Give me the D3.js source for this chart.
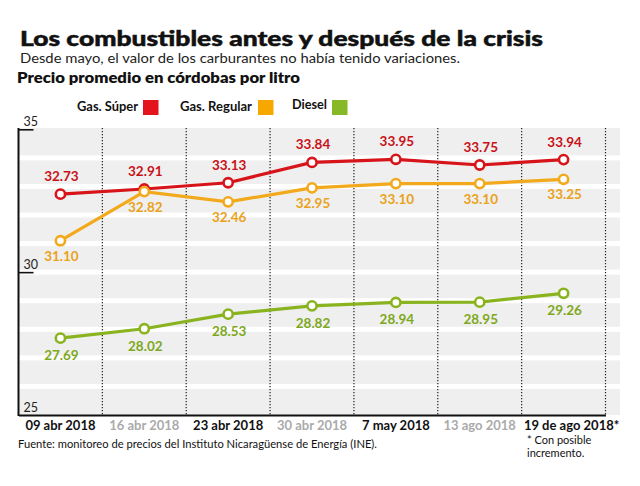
<!DOCTYPE html>
<html><head><meta charset="utf-8">
<script src="https://cdn.jsdelivr.net/npm/d3@7"></script>
<style>
body{margin:0;background:#fff;}
svg{display:block;font-family:Lato,"Open Sans",sans-serif;}
</style></head>
<body>
<svg id="c" width="640" height="486"></svg>
<script>
const categories = ["09 abr 2018","16 abr 2018","23 abr 2018","30 abr 2018","7 may 2018","13 ago 2018","19 de ago 2018*"];
const highlighted = [true,false,true,false,true,false,true];
const superValues = [32.73,32.91,33.13,33.84,33.95,33.75,33.94];
const regularValues = [31.10,32.82,32.46,32.95,33.10,33.10,33.25];
const dieselValues = [27.69,28.02,28.53,28.82,28.94,28.95,29.26];
const seriesNames = ["Gas. Súper","Gas. Regular","Diesel"];
const yTicks = [25,30,35];
const stripeValues = [25,26,27,28,29,30,31,32,33,34];

const series = [
  {name:seriesNames[0], values:superValues, line:"#d8141b", label:"#c81219", box:"#e3141c", pos:"above"},
  {name:seriesNames[1], values:regularValues, line:"#f2a91c", label:"#e9a21a", box:"#f7a800", pos:"below"},
  {name:seriesNames[2], values:dieselValues, line:"#8ab41f", label:"#7ea81c", box:"#86b925", pos:"below2"}
];

const svg = d3.select("#c");
const x = d3.scaleBand().domain(categories).range([18.5,605.5]).padding(0);
const y = d3.scaleLinear().domain([25,35]).range([415,129.3]);

// Titles
svg.append("text").attr("x",20).attr("y",46).attr("font-size",21).attr("font-weight",900)
  .attr("fill","#111").attr("stroke","#111").attr("stroke-width",0.5)
  .attr("textLength",523).attr("lengthAdjust","spacingAndGlyphs")
  .text("Los combustibles antes y después de la crisis");
svg.append("text").attr("x",20).attr("y",63).attr("font-size",13.5).attr("fill","#222")
  .attr("textLength",440).attr("lengthAdjust","spacingAndGlyphs")
  .text("Desde mayo, el valor de los carburantes no había tenido variaciones.");
svg.append("text").attr("x",17).attr("y",83).attr("font-size",14.5).attr("font-weight",800).attr("fill","#111")
  .attr("textLength",283).attr("lengthAdjust","spacingAndGlyphs")
  .text("Precio promedio en córdobas por litro");

// Legend
const legendX = [{t:77,b:143,w:61},{t:180,b:258,w:72},{t:292,b:332,w:35}];
series.forEach((s,i)=>{
  svg.append("text").attr("x",legendX[i].t).attr("y",i===2?109:111).attr("font-size",12.5).attr("font-weight",700)
    .attr("fill","#111").attr("textLength",legendX[i].w).attr("lengthAdjust","spacingAndGlyphs").text(s.name);
  svg.append("rect").attr("x",legendX[i].b).attr("y",100).attr("width",15.5).attr("height",15).attr("fill",s.box);
});

// Stripes
const g = svg.append("g");
g.selectAll("rect.stripe").data(stripeValues).enter().append("rect")
  .attr("x",19).attr("width",601)
  .attr("y",d=>y(d+1)+(d+1<35?2.5:-1.3))
  .attr("height",d=>(y(d)-(d>25?2.5:0))-(y(d+1)+(d+1<35?2.5:-1.3)))
  .attr("fill","#efefef");

// Dotted vertical separators
g.selectAll("line.sep").data(categories).enter().append("line")
  .attr("x1",d=>x(d)+x.bandwidth()).attr("x2",d=>x(d)+x.bandwidth())
  .attr("y1",128).attr("y2",415)
  .attr("stroke","#222").attr("stroke-width",1.2).attr("stroke-dasharray","1.2,1.8");

// X axis
const xa = svg.append("g").attr("transform","translate(0,415)")
  .call(d3.axisBottom(x).tickSize(0).tickPadding(9));
xa.select(".domain").attr("stroke","#111").attr("stroke-width",2);
xa.selectAll(".tick text").attr("font-family","Lato, sans-serif").attr("font-size",13)
  .attr("font-weight",700).attr("dy","0.45em")
  .attr("fill",(d,i)=>highlighted[i]?"#111":"#aaaaaa")
  .attr("dx",(d,i)=>i===categories.length-1?8:0);

// Y axis
const ya = svg.append("g").attr("transform","translate(18.5,0)")
  .call(d3.axisRight(y).tickValues(yTicks).tickSize(15).tickPadding(0).tickFormat(d3.format("d")));
ya.select(".domain").attr("d",`M0,128V416`).attr("stroke","#111").attr("stroke-width",2);
ya.selectAll(".tick line").attr("stroke","#111").attr("stroke-width",1.6)
  .attr("display",d=>d===25?"none":null);
ya.selectAll(".tick text").attr("x",5).attr("dy",-4).attr("font-family","Lato, sans-serif")
  .attr("font-size",12.5).attr("fill","#222");

// Lines, markers, labels
const line = d3.line().x((d,i)=>x(categories[i])+x.bandwidth()/2).y(d=>y(d));
series.forEach(s=>{
  svg.append("path").datum(s.values).attr("d",line).attr("fill","none")
    .attr("stroke",s.line).attr("stroke-width",3.2);
});
series.forEach(s=>{
  svg.selectAll(null).data(s.values).enter().append("circle")
    .attr("cx",(d,i)=>x(categories[i])+x.bandwidth()/2).attr("cy",d=>y(d)).attr("r",4.6)
    .attr("fill","#fff").attr("stroke",s.line).attr("stroke-width",2.6);
  svg.selectAll(null).data(s.values).enter().append("text")
    .attr("x",(d,i)=>x(categories[i])+x.bandwidth()/2+1)
    .attr("y",d=>y(d)+(s.pos==="above"?-13:(s.pos==="below"?20:22)))
    .attr("text-anchor","middle").attr("font-size",13.5).attr("font-weight",700)
    .attr("fill",s.label).text(d=>d3.format(".2f")(d));
});

// Footnotes
svg.append("text").attr("x",18).attr("y",448).attr("font-size",11.5).attr("fill","#111")
  .attr("textLength",359).attr("lengthAdjust","spacingAndGlyphs")
  .text("Fuente: monitoreo de precios del Instituto Nicaragüense de Energía (INE).");
svg.append("text").attr("x",527).attr("y",444).attr("font-size",11).attr("fill","#111").text("* Con posible");
svg.append("text").attr("x",527).attr("y",457).attr("font-size",11).attr("fill","#111").text("incremento.");
</script>
</body></html>
